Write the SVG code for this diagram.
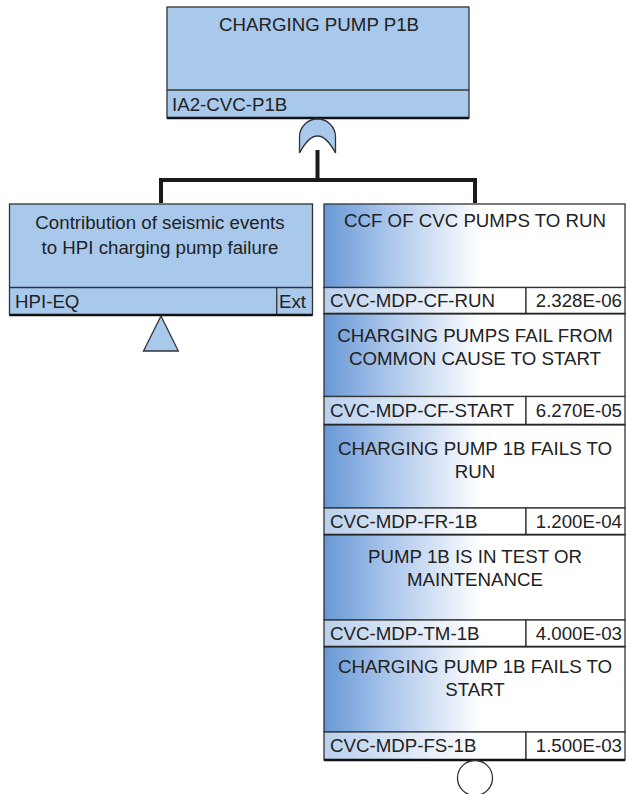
<svg xmlns="http://www.w3.org/2000/svg" width="626" height="794" viewBox="0 0 626 794">
<defs>
<linearGradient id="gEv" x1="0" y1="0" x2="1" y2="0">
<stop offset="0" stop-color="#6898d6"/>
<stop offset="0.2" stop-color="#a6c3ea"/>
<stop offset="0.52" stop-color="#ffffff"/>
<stop offset="1" stop-color="#ffffff"/>
</linearGradient>
<linearGradient id="gLb" x1="0" y1="0" x2="1" y2="0">
<stop offset="0" stop-color="#b9d0ee"/>
<stop offset="0.8" stop-color="#ffffff"/>
<stop offset="1" stop-color="#ffffff"/>
</linearGradient>
</defs>
<style>
text{font-family:"Liberation Sans",Arial,sans-serif;font-size:18.7px;fill:#222}
.c{text-anchor:middle}
.r{text-anchor:end}
.gate{fill:#a8c8ec;stroke:#333;stroke-width:1.3}
.box{stroke:#333;stroke-width:1.3}
.blue{fill:#a8c8ec}
.ev{fill:url(#gEv)}
.lb{fill:url(#gLb)}
.val{fill:#fff}
.bot{stroke:#111;stroke-width:2.6;fill:none}
.conn{stroke:#1a1a1a;stroke-width:4;fill:none}
</style>
<g id="connectors">
<path class="conn" d="M317.5,150 V180 M161,203 V180 H475 V203"/>
</g>
<g id="top-gate">
<rect class="box blue" x="167" y="7" width="302" height="111"/>
<line class="box" x1="167" y1="90" x2="469" y2="90"/>
<line class="bot" x1="167" y1="118" x2="469" y2="118"/>
<text class="c" x="319" y="31">CHARGING PUMP P1B</text>
<text x="172" y="111">IA2-CVC-P1B</text>
<path class="gate" d="M299.5,153 V137 A18,18 0 0 1 335.5,137 V153 Q317.5,119 299.5,153 Z"/>
</g>
<g id="hpi-eq">
<rect class="box blue" x="9.5" y="204" width="303" height="111"/>
<line class="box" x1="9.5" y1="287.5" x2="312.5" y2="287.5"/>
<line class="box" x1="276.7" y1="287.5" x2="276.7" y2="315"/>
<line class="bot" x1="9.5" y1="315" x2="312.5" y2="315"/>
<text class="c" x="160" y="229">Contribution of seismic events</text>
<text class="c" x="160" y="254">to HPI charging pump failure</text>
<text x="15" y="308">HPI-EQ</text>
<text x="279" y="308">Ext</text>
<path class="gate" d="M161,316 L178.3,351 L143.5,351 Z"/>
</g>
<g id="cvc-mdp-cf-run">
<rect class="box ev" x="324" y="204" width="301" height="83.5"/>
<rect class="box lb" x="324" y="287.5" width="202" height="26.5"/>
<rect class="box val" x="526" y="287.5" width="99" height="26.5"/>
<line class="bot" x1="324" y1="314" x2="625" y2="314"/>
<text class="c" x="475" y="227">CCF OF CVC PUMPS TO RUN</text>
<text x="330" y="307">CVC-MDP-CF-RUN</text>
<text class="r" x="622" y="307">2.328E-06</text>
</g>
<g id="cvc-mdp-cf-start">
<rect class="box ev" x="324" y="314" width="301" height="82.5"/>
<rect class="box lb" x="324" y="396.5" width="202" height="28.5"/>
<rect class="box val" x="526" y="396.5" width="99" height="28.5"/>
<line class="bot" x1="324" y1="425" x2="625" y2="425"/>
<text class="c" x="475" y="342">CHARGING PUMPS FAIL FROM</text>
<text class="c" x="475" y="364.5">COMMON CAUSE TO START</text>
<text x="330" y="417">CVC-MDP-CF-START</text>
<text class="r" x="622" y="417">6.270E-05</text>
</g>
<g id="cvc-mdp-fr-1b">
<rect class="box ev" x="324" y="425" width="301" height="83"/>
<rect class="box lb" x="324" y="508" width="202" height="27"/>
<rect class="box val" x="526" y="508" width="99" height="27"/>
<line class="bot" x1="324" y1="535" x2="625" y2="535"/>
<text class="c" x="475" y="455">CHARGING PUMP 1B FAILS TO</text>
<text class="c" x="475" y="478">RUN</text>
<text x="330" y="528">CVC-MDP-FR-1B</text>
<text class="r" x="622" y="528">1.200E-04</text>
</g>
<g id="cvc-mdp-tm-1b">
<rect class="box ev" x="324" y="535" width="301" height="85"/>
<rect class="box lb" x="324" y="620" width="202" height="27"/>
<rect class="box val" x="526" y="620" width="99" height="27"/>
<line class="bot" x1="324" y1="647" x2="625" y2="647"/>
<text class="c" x="475" y="562.5">PUMP 1B IS IN TEST OR</text>
<text class="c" x="475" y="585.5">MAINTENANCE</text>
<text x="330" y="640">CVC-MDP-TM-1B</text>
<text class="r" x="622" y="640">4.000E-03</text>
</g>
<g id="cvc-mdp-fs-1b">
<rect class="box ev" x="324" y="647" width="301" height="85"/>
<rect class="box lb" x="324" y="732" width="202" height="28"/>
<rect class="box val" x="526" y="732" width="99" height="28"/>
<line class="bot" x1="324" y1="760" x2="625" y2="760"/>
<text class="c" x="475" y="673">CHARGING PUMP 1B FAILS TO</text>
<text class="c" x="475" y="696">START</text>
<text x="330" y="752">CVC-MDP-FS-1B</text>
<text class="r" x="622" y="752">1.500E-03</text>
<circle cx="475" cy="778" r="17.5" fill="#fff" stroke="#333" stroke-width="1.3"/>
</g>
</svg>
